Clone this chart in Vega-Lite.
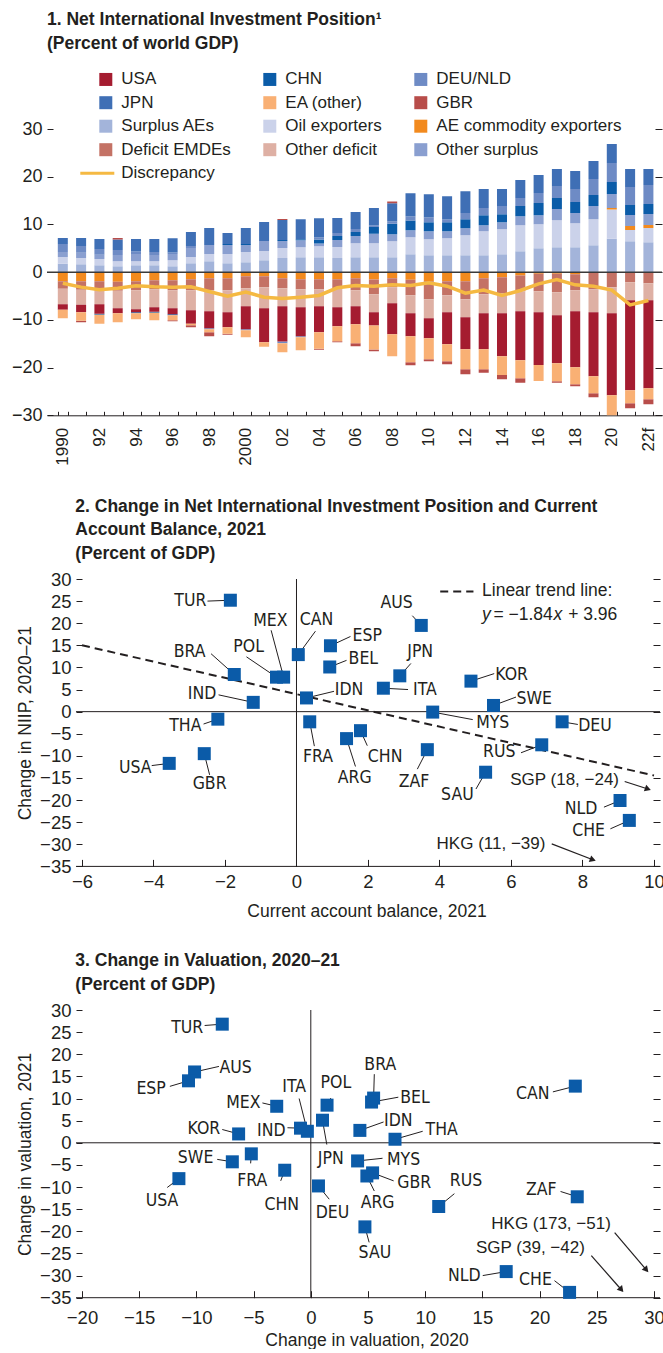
{
"$schema": "https://vega.github.io/schema/vega-lite/v6.json",
"background": "white",
"padding": {"left": 11, "top": 11, "right": 0, "bottom": 0},
"columns": 1,
"spacing": 31,
"config": {
  "view": {"stroke": null},
  "font": "Liberation Sans",
  "axis": {"grid": false, "labelFont": "Liberation Sans", "labelColor": "#231f20", "labelFontSize": 18, "titleFont": "Liberation Sans", "titleFontSize": 17.5, "titleFontWeight": "normal", "titleColor": "#231f20", "tickColor": "#231f20", "domainColor": "#231f20", "tickWidth": 1, "domainWidth": 1},
  "title": {"font": "Liberation Sans", "fontSize": 17.5, "fontWeight": "bold", "color": "#231f20", "anchor": "start", "frame": "group", "lineHeight": 23.5},
  "legend": {"labelFont": "Liberation Sans", "labelColor": "#231f20"}
},
"datasets": {
  "niip": [
    {"year":1990,"Surplus AEs":1.75,"Oil exporters":1.40,"AE commodity exporters":-1.89,"Other surplus":1.05,"CHN":0,"DEU/NLD":1.68,"JPN":1.26,"GBR":0,"Deficit EMDEs":-1.61,"Other deficit":-3.21,"USA":-1.19,"EA (other)":-1.75,"disc":-2.31},
    {"year":1991,"Surplus AEs":1.68,"Oil exporters":1.26,"AE commodity exporters":-1.89,"Other surplus":1.12,"CHN":0,"DEU/NLD":1.40,"JPN":1.68,"GBR":-0.28,"Deficit EMDEs":-1.82,"Other deficit":-3.14,"USA":-1.54,"EA (other)":-1.82,"disc":-3.14},
    {"year":1992,"Surplus AEs":1.47,"Oil exporters":1.26,"AE commodity exporters":-1.89,"Other surplus":0.91,"CHN":-0.21,"DEU/NLD":1.19,"JPN":2.10,"GBR":0,"Deficit EMDEs":-1.61,"Other deficit":-3.21,"USA":-2.03,"EA (other)":-1.89,"disc":-3.70},
    {"year":1993,"Surplus AEs":1.26,"Oil exporters":1.05,"AE commodity exporters":-2.03,"Other surplus":1.26,"CHN":0,"DEU/NLD":1.05,"JPN":2.24,"GBR":0.28,"Deficit EMDEs":-1.89,"Other deficit":-3.63,"USA":-1.05,"EA (other)":-1.89,"disc":-3.35},
    {"year":1994,"Surplus AEs":1.47,"Oil exporters":0.84,"AE commodity exporters":-1.89,"Other surplus":1.47,"CHN":-0.21,"DEU/NLD":0.56,"JPN":2.59,"GBR":0,"Deficit EMDEs":-1.89,"Other deficit":-3.98,"USA":-0.63,"EA (other)":-1.26,"disc":-2.87},
    {"year":1995,"Surplus AEs":1.47,"Oil exporters":0.84,"AE commodity exporters":-1.68,"Other surplus":1.26,"CHN":-0.21,"DEU/NLD":0.63,"JPN":2.73,"GBR":0,"Deficit EMDEs":-1.89,"Other deficit":-3.77,"USA":-0.98,"EA (other)":-1.54,"disc":-3.07},
    {"year":1996,"Surplus AEs":1.26,"Oil exporters":1.26,"AE commodity exporters":-1.68,"Other surplus":1.26,"CHN":-0.21,"DEU/NLD":0.35,"JPN":3.00,"GBR":-0.21,"Deficit EMDEs":-2.10,"Other deficit":-3.77,"USA":-1.26,"EA (other)":-1.05,"disc":-3.14},
    {"year":1997,"Surplus AEs":1.89,"Oil exporters":1.26,"AE commodity exporters":-1.47,"Other surplus":1.89,"CHN":0,"DEU/NLD":0.42,"JPN":2.94,"GBR":-0.42,"Deficit EMDEs":-2.31,"Other deficit":-4.19,"USA":-2.87,"EA (other)":-0.28,"disc":-3.07},
    {"year":1998,"Surplus AEs":2.31,"Oil exporters":1.47,"AE commodity exporters":-1.26,"Other surplus":1.89,"CHN":0,"DEU/NLD":-0.21,"JPN":3.56,"GBR":-0.84,"Deficit EMDEs":-2.52,"Other deficit":-4.40,"USA":-3.56,"EA (other)":-0.63,"disc":-4.05},
    {"year":1999,"Surplus AEs":1.89,"Oil exporters":1.89,"AE commodity exporters":-1.26,"Other surplus":1.89,"CHN":0.21,"DEU/NLD":0,"JPN":2.31,"GBR":-0.21,"Deficit EMDEs":-2.52,"Other deficit":-4.61,"USA":-3.14,"EA (other)":-1.40,"disc":-5.03},
    {"year":2000,"Surplus AEs":2.10,"Oil exporters":2.10,"AE commodity exporters":-0.84,"Other surplus":1.47,"CHN":0.21,"DEU/NLD":-0.21,"JPN":3.35,"GBR":0,"Deficit EMDEs":-2.52,"Other deficit":-3.77,"USA":-4.82,"EA (other)":-1.47,"disc":-4.19},
    {"year":2001,"Surplus AEs":2.52,"Oil exporters":1.89,"AE commodity exporters":-0.84,"Other surplus":2.10,"CHN":0,"DEU/NLD":0,"JPN":3.98,"GBR":0,"Deficit EMDEs":-2.31,"Other deficit":-4.40,"USA":-7.13,"EA (other)":-0.98,"disc":-5.24},
    {"year":2002,"Surplus AEs":2.94,"Oil exporters":2.10,"AE commodity exporters":-1.26,"Other surplus":1.47,"CHN":0.21,"DEU/NLD":-0.35,"JPN":4.19,"GBR":0.21,"Deficit EMDEs":-2.10,"Other deficit":-3.77,"USA":-7.41,"EA (other)":-1.89,"disc":-5.52},
    {"year":2003,"Surplus AEs":3.14,"Oil exporters":2.10,"AE commodity exporters":-1.47,"Other surplus":1.47,"CHN":0.21,"DEU/NLD":-0.21,"JPN":4.19,"GBR":0,"Deficit EMDEs":-2.10,"Other deficit":-3.77,"USA":-6.08,"EA (other)":-2.73,"disc":-5.24},
    {"year":2004,"Surplus AEs":3.14,"Oil exporters":2.31,"AE commodity exporters":-1.47,"Other surplus":0.56,"CHN":0.84,"DEU/NLD":0.49,"JPN":3.98,"GBR":-0.21,"Deficit EMDEs":-2.10,"Other deficit":-3.56,"USA":-5.45,"EA (other)":-3.49,"disc":-4.89},
    {"year":2005,"Surplus AEs":2.94,"Oil exporters":2.31,"AE commodity exporters":-1.47,"Other surplus":1.47,"CHN":0.84,"DEU/NLD":0.63,"JPN":3.14,"GBR":-0.21,"Deficit EMDEs":-1.89,"Other deficit":-3.98,"USA":-3.98,"EA (other)":-3.14,"disc":-3.28},
    {"year":2006,"Surplus AEs":3.14,"Oil exporters":2.94,"AE commodity exporters":-1.26,"Other surplus":1.47,"CHN":0.84,"DEU/NLD":0.63,"JPN":3.56,"GBR":-0.63,"Deficit EMDEs":-2.52,"Other deficit":-3.35,"USA":-3.77,"EA (other)":-3.98,"disc":-2.80},
    {"year":2007,"Surplus AEs":3.14,"Oil exporters":2.94,"AE commodity exporters":-1.54,"Other surplus":1.96,"CHN":1.40,"DEU/NLD":0.35,"JPN":3.63,"GBR":-0.35,"Deficit EMDEs":-3.07,"Other deficit":-3.77,"USA":-2.80,"EA (other)":-5.03,"disc":-2.94},
    {"year":2008,"Surplus AEs":3.14,"Oil exporters":3.35,"AE commodity exporters":-1.26,"Other surplus":1.47,"CHN":2.17,"DEU/NLD":0.49,"JPN":3.84,"GBR":0.35,"Deficit EMDEs":-1.89,"Other deficit":-3.35,"USA":-6.50,"EA (other)":-4.61,"disc":-2.66},
    {"year":2009,"Surplus AEs":3.77,"Oil exporters":3.56,"AE commodity exporters":-1.61,"Other surplus":1.47,"CHN":2.03,"DEU/NLD":0.91,"JPN":4.82,"GBR":-0.63,"Deficit EMDEs":-3.21,"Other deficit":-3.77,"USA":-4.82,"EA (other)":-5.45,"disc":-2.80},
    {"year":2010,"Surplus AEs":3.56,"Oil exporters":3.35,"AE commodity exporters":-1.89,"Other surplus":1.68,"CHN":1.89,"DEU/NLD":1.05,"JPN":4.82,"GBR":-0.42,"Deficit EMDEs":-3.77,"Other deficit":-3.98,"USA":-4.19,"EA (other)":-4.40,"disc":-2.24},
    {"year":2011,"Surplus AEs":3.56,"Oil exporters":3.56,"AE commodity exporters":-1.89,"Other surplus":1.47,"CHN":1.89,"DEU/NLD":0.63,"JPN":4.82,"GBR":-0.63,"Deficit EMDEs":-2.94,"Other deficit":-3.56,"USA":-6.71,"EA (other)":-3.56,"disc":-2.94},
    {"year":2012,"Surplus AEs":3.56,"Oil exporters":4.19,"AE commodity exporters":-1.89,"Other surplus":1.47,"CHN":1.89,"DEU/NLD":1.26,"JPN":4.61,"GBR":-1.05,"Deficit EMDEs":-3.77,"Other deficit":-3.77,"USA":-6.71,"EA (other)":-4.19,"disc":-4.40},
    {"year":2013,"Surplus AEs":3.56,"Oil exporters":5.03,"AE commodity exporters":-1.26,"Other surplus":1.26,"CHN":2.10,"DEU/NLD":1.47,"JPN":3.98,"GBR":-0.77,"Deficit EMDEs":-3.35,"Other deficit":-3.98,"USA":-7.55,"EA (other)":-4.19,"disc":-3.77},
    {"year":2014,"Surplus AEs":3.77,"Oil exporters":5.24,"AE commodity exporters":-1.05,"Other surplus":1.47,"CHN":1.68,"DEU/NLD":1.68,"JPN":3.56,"GBR":-0.84,"Deficit EMDEs":-3.35,"Other deficit":-4.19,"USA":-9.01,"EA (other)":-3.98,"disc":-4.89},
    {"year":2015,"Surplus AEs":4.40,"Oil exporters":5.45,"AE commodity exporters":-0.70,"Other surplus":1.89,"CHN":2.10,"DEU/NLD":1.68,"JPN":3.77,"GBR":-0.98,"Deficit EMDEs":-3.28,"Other deficit":-4.19,"USA":-10.27,"EA (other)":-3.77,"disc":-3.84},
    {"year":2016,"Surplus AEs":5.03,"Oil exporters":5.03,"AE commodity exporters":-0.35,"Other surplus":1.89,"CHN":2.52,"DEU/NLD":2.10,"JPN":3.77,"GBR":0,"Deficit EMDEs":-3.63,"Other deficit":-4.40,"USA":-11.10,"EA (other)":-3.35,"disc":-2.45},
    {"year":2017,"Surplus AEs":5.24,"Oil exporters":5.66,"AE commodity exporters":-0.35,"Other surplus":2.31,"CHN":2.31,"DEU/NLD":2.52,"JPN":3.56,"GBR":-0.35,"Deficit EMDEs":-3.84,"Other deficit":-4.82,"USA":-10.06,"EA (other)":-3.77,"disc":-1.54},
    {"year":2018,"Surplus AEs":5.24,"Oil exporters":5.03,"AE commodity exporters":-0.42,"Other surplus":2.10,"CHN":2.31,"DEU/NLD":2.73,"JPN":3.77,"GBR":-0.42,"Deficit EMDEs":-3.35,"Other deficit":-4.40,"USA":-11.74,"EA (other)":-3.56,"disc":-2.66},
    {"year":2019,"Surplus AEs":5.66,"Oil exporters":5.45,"AE commodity exporters":0,"Other surplus":2.73,"CHN":2.31,"DEU/NLD":3.35,"JPN":3.77,"GBR":-0.84,"Deficit EMDEs":-3.56,"Other deficit":-4.82,"USA":-13.42,"EA (other)":-3.56,"disc":-2.94},
    {"year":2020,"Surplus AEs":6.99,"Oil exporters":6.15,"AE commodity exporters":0.28,"Other surplus":2.94,"CHN":2.52,"DEU/NLD":3.98,"JPN":3.98,"GBR":-0.40,"Deficit EMDEs":-3.14,"Other deficit":-5.45,"USA":-17.19,"EA (other)":-5.00,"disc":-3.75},
    {"year":2021,"Surplus AEs":6.50,"Oil exporters":2.31,"AE commodity exporters":0.84,"Other surplus":2.31,"CHN":2.10,"DEU/NLD":3.77,"JPN":3.77,"GBR":-1.05,"Deficit EMDEs":-2.10,"Other deficit":-3.77,"USA":-18.87,"EA (other)":-2.73,"disc":-6.85},
    {"year":2022,"Surplus AEs":6.29,"Oil exporters":2.94,"AE commodity exporters":0.63,"Other surplus":2.31,"CHN":2.10,"DEU/NLD":3.98,"JPN":3.35,"GBR":-1.05,"Deficit EMDEs":-2.31,"Other deficit":-3.56,"USA":-18.45,"EA (other)":-2.31,"disc":-5.94}
  ],
  "s2": [
    {"code":"TUR","x":-1.85,"y":25.2,"lx":-2.97,"ly":25.0,"ex":-2.49,"ey":25.0},
    {"code":"BRA","x":-1.74,"y":8.4,"lx":-2.99,"ly":13.4,"ex":-2.39,"ey":13.1},
    {"code":"IND","x":-1.21,"y":2.1,"lx":-2.64,"ly":4.1,"ex":-2.18,"ey":3.8},
    {"code":"THA","x":-2.2,"y":-1.7,"lx":-3.11,"ly":-3.3,"ex":-2.6,"ey":-2.8},
    {"code":"GBR","x":-2.58,"y":-9.5,"lx":-2.43,"ly":-16.3,"ex":-2.43,"ey":-14.3},
    {"code":"USA","x":-3.56,"y":-11.7,"lx":-4.51,"ly":-12.7,"ex":-4.05,"ey":-12.2},
    {"code":"POL","x":-0.56,"y":7.8,"lx":-1.34,"ly":14.6,"ex":-1.4,"ey":12.4},
    {"code":"MEX","x":-0.36,"y":7.8,"lx":-0.73,"ly":20.6,"ex":-0.71,"ey":18.4},
    {"code":"CAN","x":0.05,"y":12.9,"lx":0.56,"ly":20.8,"ex":0.53,"ey":18.2},
    {"code":"FRA","x":0.37,"y":-2.3,"lx":0.6,"ly":-10.3,"ex":0.5,"ey":-7.8},
    {"code":"IDN","x":0.28,"y":3.1,"lx":1.47,"ly":5.0,"ex":1.05,"ey":4.6},
    {"code":"ESP","x":0.95,"y":14.9,"lx":1.98,"ly":17.2,"ex":1.51,"ey":17.0},
    {"code":"BEL","x":0.93,"y":10.1,"lx":1.87,"ly":11.9,"ex":1.4,"ey":11.6},
    {"code":"AUS","x":3.49,"y":19.5,"lx":2.8,"ly":24.6,"ex":3.24,"ey":21.7},
    {"code":"JPN","x":2.89,"y":8.1,"lx":3.46,"ly":13.6,"ex":3.2,"ey":10.9},
    {"code":"ITA","x":2.43,"y":5.3,"lx":3.59,"ly":4.8,"ex":3.12,"ey":5.0},
    {"code":"KOR","x":4.88,"y":6.9,"lx":6.02,"ly":8.4,"ex":5.53,"ey":8.6},
    {"code":"SWE","x":5.51,"y":1.4,"lx":6.65,"ly":2.9,"ex":6.14,"ey":3.3},
    {"code":"MYS","x":3.81,"y":-0.1,"lx":5.49,"ly":-2.6,"ex":4.93,"ey":-1.8},
    {"code":"DEU","x":7.43,"y":-2.3,"lx":8.35,"ly":-3.3,"ex":7.87,"ey":-2.9},
    {"code":"RUS","x":6.86,"y":-7.5,"lx":5.67,"ly":-9.2,"ex":6.28,"ey":-9.3},
    {"code":"ARG","x":1.4,"y":-6.1,"lx":1.63,"ly":-15.0,"ex":1.65,"ey":-12.4},
    {"code":"CHN","x":1.79,"y":-4.3,"lx":2.48,"ly":-10.3,"ex":1.98,"ey":-7.7},
    {"code":"ZAF","x":3.66,"y":-8.6,"lx":3.29,"ly":-15.8,"ex":3.38,"ey":-13.0},
    {"code":"SAU","x":5.29,"y":-13.7,"lx":4.5,"ly":-18.8,"ex":5.02,"ey":-17.5},
    {"code":"NLD","x":9.05,"y":-20.1,"lx":7.96,"ly":-22.0,"ex":8.6,"ey":-21.6},
    {"code":"CHE","x":9.31,"y":-24.6,"lx":8.17,"ly":-27.1,"ex":8.78,"ey":-26.5}
  ],
  "a2": [
    {"t":"SGP (18, −24)","lx":7.5,"ly":-15.4,"x1":9.18,"y1":-15.8,"x2":9.83,"y2":-17.5},
    {"t":"HKG (11, −39)","lx":5.44,"ly":-29.9,"x1":7.14,"y1":-29.9,"x2":8.29,"y2":-33.5}
  ],
  "trend2": [{"x":-6,"y":15.0},{"x":10,"y":-14.44}],
  "tleg2": [{"x":4.02,"y":27.2},{"x":4.95,"y":27.2}],
  "eqr": [{"t":"Linear trend line:","x":5.19,"y":27.2},{"t":"= −1.84","x":5.51,"y":21.9},{"t":"+ 3.96","x":7.6,"y":21.9}],
  "eqi": [{"t":"y","x":5.19,"y":21.9},{"t":"x","x":7.19,"y":21.9}],
  "s3": [
    {"code":"TUR","x":-7.74,"y":26.8,"lx":-10.8,"ly":26.0,"ex":-9.28,"ey":26.5},
    {"code":"AUS","x":-10.16,"y":16.0,"lx":-6.57,"ly":16.9,"ex":-8.03,"ey":17.25},
    {"code":"ESP","x":-10.69,"y":14.0,"lx":-13.96,"ly":12.2,"ex":-12.32,"ey":12.75},
    {"code":"MEX","x":-2.98,"y":8.25,"lx":-5.9,"ly":9.0,"ex":-4.23,"ey":9.0},
    {"code":"ITA","x":-0.3,"y":2.6,"lx":-1.46,"ly":12.5,"ex":-1.02,"ey":10.0},
    {"code":"IND","x":-0.9,"y":3.3,"lx":-3.45,"ly":2.6,"ex":-2.04,"ey":3.4},
    {"code":"KOR","x":-6.31,"y":2.0,"lx":-9.34,"ly":3.15,"ex":-7.74,"ey":3.0},
    {"code":"SWE","x":-6.86,"y":-4.3,"lx":-10.07,"ly":-3.5,"ex":-8.18,"ey":-3.75},
    {"code":"FRA","x":-5.2,"y":-2.5,"lx":-5.11,"ly":-8.6,"ex":-5.26,"ey":-4.65},
    {"code":"CHN","x":-2.28,"y":-6.2,"lx":-2.54,"ly":-14.0,"ex":-2.63,"ey":-8.6},
    {"code":"USA","x":-11.53,"y":-8.1,"lx":-13.0,"ly":-13.1,"ex":-12.55,"ey":-10.1},
    {"code":"DEU","x":0.67,"y":-9.75,"lx":1.9,"ly":-15.8,"ex":1.61,"ey":-12.75},
    {"code":"JPN","x":1.02,"y":5.1,"lx":1.75,"ly":-3.75,"ex":1.4,"ey":-0.4},
    {"code":"POL","x":1.42,"y":8.5,"lx":2.19,"ly":13.5,"ex":1.75,"ey":10.1},
    {"code":"BRA","x":5.49,"y":10.1,"lx":6.07,"ly":17.65,"ex":5.55,"ey":15.5},
    {"code":"BEL","x":5.31,"y":9.2,"lx":9.11,"ly":10.1,"ex":7.65,"ey":10.3},
    {"code":"IDN","x":4.29,"y":2.8,"lx":7.65,"ly":4.9,"ex":6.36,"ey":4.7},
    {"code":"THA","x":7.36,"y":0.8,"lx":11.44,"ly":3.0,"ex":9.78,"ey":2.6},
    {"code":"MYS","x":4.09,"y":-4.1,"lx":8.11,"ly":-4.0,"ex":6.27,"ey":-3.5},
    {"code":"GBR","x":5.4,"y":-6.8,"lx":9.05,"ly":-9.0,"ex":7.24,"ey":-8.6},
    {"code":"ARG","x":4.9,"y":-7.5,"lx":5.84,"ly":-13.5,"ex":5.55,"ey":-10.9},
    {"code":"RUS","x":11.18,"y":-14.4,"lx":13.57,"ly":-8.6,"ex":12.55,"ey":-11.5},
    {"code":"SAU","x":4.73,"y":-19.0,"lx":5.6,"ly":-25.0,"ex":5.1,"ey":-22.5},
    {"code":"NLD","x":17.08,"y":-29.1,"lx":13.42,"ly":-30.2,"ex":15.03,"ey":-30.0},
    {"code":"CHE","x":22.62,"y":-33.8,"lx":19.64,"ly":-31.0,"ex":21.3,"ey":-31.15},
    {"code":"CAN","x":23.12,"y":12.8,"lx":19.41,"ly":11.0,"ex":21.16,"ey":11.5},
    {"code":"ZAF","x":23.29,"y":-12.2,"lx":20.14,"ly":-10.7,"ex":21.83,"ey":-11.0}
  ],
  "a3": [
    {"t":"HKG (173, −51)","lx":21.0,"ly":-18.25,"x1":26.56,"y1":-20.3,"x2":29.33,"y2":-28.7},
    {"t":"SGP (39, −42)","lx":19.2,"ly":-23.8,"x1":24.52,"y1":-25.5,"x2":27.15,"y2":-33.2}
  ]
},
"concat": [
  {
    "width": 615, "height": 286.3,
    "title": {"text": ["1. Net International Investment Position¹", "    (Percent of world GDP)"], "offset": 68},
    "data": {"name": "niip"},
    "layer": [
      {
        "transform": [
          {"fold": ["Surplus AEs","Oil exporters","AE commodity exporters","Other surplus","CHN","DEU/NLD","JPN","GBR","Deficit EMDEs","Other deficit","USA","EA (other)"], "as": ["series","value"]},
          {"calculate": "indexof(['Surplus AEs','Oil exporters','AE commodity exporters','Deficit EMDEs','Other deficit','USA','Other surplus','CHN','DEU/NLD','JPN','EA (other)','GBR'], datum.series)", "as": "stackOrder"}
        ],
        "mark": {"type": "bar", "clip": true},
        "encoding": {
          "x": {"field": "year", "type": "ordinal",
                "scale": {"paddingInner": 0.453, "paddingOuter": 0.53, "align": 0.557},
                "axis": {"title": null, "tickBand": "extent", "tickSize": -4, "labelAngle": 270, "labelFontSize": 17, "labelPadding": 16, "labelOverlap": false, "domain": true,
                         "labelExpr": "datum.value % 2 != 0 ? '' : ((datum.value == 1990 || datum.value == 2000) ? datum.label : (datum.value == 2022 ? '22f' : substring(datum.label, 2, 4)))"}},
          "y": {"field": "value", "type": "quantitative", "stack": "zero",
                "scale": {"domain": [-30, 30], "nice": false, "zero": false},
                "axis": {"orient": "left", "title": null, "values": [-30,-20,-10,0,10,20,30], "tickSize": -6, "labelPadding": 11, "domain": false}},
          "color": {"field": "series", "type": "nominal",
                    "scale": {"domain": ["USA","JPN","Surplus AEs","Deficit EMDEs","Other surplus","CHN","EA (other)","Oil exporters","Other deficit","Discrepancy","DEU/NLD","GBR","AE commodity exporters"],
                              "range": ["#a51c30","#3f6fb5","#a3b4da","#c47265","#8a9fd0","#0b5ca8","#f9b074","#cbd2ea","#deb0a4","#f5b942","#6e8bc5","#b84d4a","#f28a1e"]},
                    "legend": {"title": null, "orient": "none", "legendX": 52.3, "legendY": -58.3, "columns": 3, "columnPadding": 32, "rowPadding": 5.5,
                               "symbolType": "square", "symbolSize": 169, "labelFontSize": 17, "labelOffset": 5, "labelLimit": 0, "padding": 0,
                               "encode": {"symbols": {"update": {
                                 "shape": {"signal": "datum.value === 'Discrepancy' ? 'stroke' : 'square'"},
                                 "size": {"signal": "datum.value === 'Discrepancy' ? 1156 : 169"},
                                 "strokeWidth": {"signal": "datum.value === 'Discrepancy' ? 3 : 0"},
                                 "stroke": {"signal": "datum.value === 'Discrepancy' ? '#f5b942' : 'transparent'"},
                                 "x": {"signal": "datum.value === 'Discrepancy' ? -2 : 6.5"}
                               }}}}},
          "order": {"field": "stackOrder", "type": "quantitative", "sort": "ascending"}
        }
      },
      {
        "data": {"values": [{}]},
        "mark": {"type": "rule", "color": "#3a3a3a", "strokeWidth": 1.5},
        "encoding": {"y": {"datum": 0, "type": "quantitative", "axis": null}}
      },
      {
        "mark": {"type": "line", "color": "#f5b942", "strokeWidth": 3.5},
        "encoding": {
          "x": {"field": "year", "type": "ordinal"},
          "y": {"field": "disc", "type": "quantitative", "axis": {"orient": "right", "title": null, "labels": false, "domain": false, "tickSize": -7, "values": [-30,-20,-10,0,10,20,30]}}
        }
      }
    ],
    "resolve": {"axis": {"y": "independent"}}
  },
  {
    "width": 613, "height": 287.4,
    "title": {"text": ["2. Change in Net International Investment Position and Current", "    Account Balance, 2021", "    (Percent of GDP)"], "offset": 8, "dx": 28.3},
    "layer": [
      {
        "data": {"values": [{}]},
        "mark": {"type": "rule", "color": "#231f20", "strokeWidth": 1},
        "encoding": {"x": {"datum": -6.168, "type": "quantitative"}, "x2": {"datum": 10.168},
                     "y": {"datum": 0, "type": "quantitative", "axis": {"orient": "right", "title": null, "labels": false, "domain": false, "tickSize": -7, "values": [-35,-30,-25,-20,-15,-10,-5,0,5,10,15,20,25,30]}}}
      },
      {
        "data": {"values": [{}]},
        "mark": {"type": "rule", "color": "#231f20", "strokeWidth": 1},
        "encoding": {"x": {"datum": -6.168, "type": "quantitative"}, "x2": {"datum": 10.168},
                     "y": {"datum": -35, "type": "quantitative", "axis": null}}
      },
      {
        "data": {"values": [{}]},
        "mark": {"type": "rule", "color": "#231f20", "strokeWidth": 1},
        "encoding": {"x": {"datum": 0, "type": "quantitative"}}
      },
      {
        "data": {"name": "trend2"},
        "mark": {"type": "line", "color": "#231f20", "strokeWidth": 2, "strokeDash": [8, 5]},
        "encoding": {"x": {"field": "x", "type": "quantitative"}, "y": {"field": "y", "type": "quantitative", "axis": null}}
      },
      {
        "data": {"name": "tleg2"},
        "mark": {"type": "line", "color": "#231f20", "strokeWidth": 2, "strokeDash": [8, 5]},
        "encoding": {"x": {"field": "x", "type": "quantitative"}, "y": {"field": "y", "type": "quantitative", "axis": null}}
      },
      {
        "data": {"name": "eqr"},
        "mark": {"type": "text", "align": "left", "baseline": "middle", "font": "Liberation Sans", "fontSize": 17.5, "color": "#231f20"},
        "encoding": {"x": {"field": "x", "type": "quantitative"}, "y": {"field": "y", "type": "quantitative", "axis": null}, "text": {"field": "t"}}
      },
      {
        "data": {"name": "eqi"},
        "mark": {"type": "text", "align": "left", "baseline": "middle", "font": "Liberation Sans", "fontSize": 17.5, "fontStyle": "italic", "color": "#231f20"},
        "encoding": {"x": {"field": "x", "type": "quantitative"}, "y": {"field": "y", "type": "quantitative", "axis": null}, "text": {"field": "t"}}
      },
      {
        "data": {"name": "s2"},
        "mark": {"type": "rule", "color": "#231f20", "strokeWidth": 1},
        "encoding": {"x": {"field": "x", "type": "quantitative"}, "y": {"field": "y", "type": "quantitative", "axis": null}, "x2": {"field": "ex"}, "y2": {"field": "ey"}}
      },
      {
        "data": {"name": "s2"},
        "mark": {"type": "square", "size": 169, "filled": true, "color": "#0b5ba8", "opacity": 1},
        "encoding": {
          "x": {"field": "x", "type": "quantitative", "scale": {"domain": [-6.979, 10.168], "nice": false, "zero": false},
                "axis": {"orient": "bottom", "title": "Current account balance, 2021", "values": [-6,-4,-2,0,2,4,6,8,10], "tickSize": -7, "labelPadding": 13, "labelFontSize": 18.5, "domain": false, "titlePadding": 12, "titleX": 319.5, "titleAnchor": "start", "titleAlign": "center"}},
          "y": {"field": "y", "type": "quantitative", "scale": {"domain": [-35, 30], "nice": false, "zero": false},
                "axis": {"orient": "left", "offset": -29, "title": "Change in NIIP, 2020–21", "values": [-35,-30,-25,-20,-15,-10,-5,0,5,10,15,20,25,30], "tickSize": -6, "labelPadding": 11, "labelFontSize": 18.5, "domain": false, "titlePadding": 5}}
        }
      },
      {
        "data": {"name": "s2"},
        "mark": {"type": "text", "align": "center", "baseline": "middle", "font": "DejaVu Sans Condensed", "fontSize": 17.5, "color": "#231f20"},
        "encoding": {"x": {"field": "lx", "type": "quantitative"}, "y": {"field": "ly", "type": "quantitative", "axis": null}, "text": {"field": "code"}}
      },
      {
        "data": {"name": "a2"},
        "mark": {"type": "rule", "color": "#231f20", "strokeWidth": 1.2},
        "encoding": {"x": {"field": "x1", "type": "quantitative"}, "y": {"field": "y1", "type": "quantitative", "axis": null}, "x2": {"field": "x2"}, "y2": {"field": "y2"}}
      },
      {
        "data": {"name": "a2"},
        "mark": {"type": "point", "shape": "triangle-right", "angle": 20, "size": 50, "filled": true, "color": "#231f20", "opacity": 1},
        "encoding": {"x": {"field": "x2", "type": "quantitative"}, "y": {"field": "y2", "type": "quantitative", "axis": null}}
      },
      {
        "data": {"name": "a2"},
        "mark": {"type": "text", "align": "center", "baseline": "middle", "font": "Liberation Sans", "fontSize": 17, "color": "#231f20"},
        "encoding": {"x": {"field": "lx", "type": "quantitative"}, "y": {"field": "ly", "type": "quantitative", "axis": null}, "text": {"field": "t"}}
      }
    ],
    "resolve": {"axis": {"y": "independent"}}
  },
  {
    "width": 613, "height": 287.7,
    "title": {"text": ["3. Change in Valuation, 2020–21", "    (Percent of GDP)"], "offset": 8, "dx": 28.3},
    "layer": [
      {
        "data": {"values": [{}]},
        "mark": {"type": "rule", "color": "#231f20", "strokeWidth": 1},
        "encoding": {"x": {"datum": -20.524, "type": "quantitative"}, "x2": {"datum": 30.524},
                     "y": {"datum": 0, "type": "quantitative", "axis": {"orient": "right", "title": null, "labels": false, "domain": false, "tickSize": -7, "values": [-35,-30,-25,-20,-15,-10,-5,0,5,10,15,20,25,30]}}}
      },
      {
        "data": {"values": [{}]},
        "mark": {"type": "rule", "color": "#231f20", "strokeWidth": 1},
        "encoding": {"x": {"datum": -20.524, "type": "quantitative"}, "x2": {"datum": 30.524},
                     "y": {"datum": -35, "type": "quantitative", "axis": null}}
      },
      {
        "data": {"values": [{}]},
        "mark": {"type": "rule", "color": "#231f20", "strokeWidth": 1},
        "encoding": {"x": {"datum": 0, "type": "quantitative"}}
      },
      {
        "data": {"name": "s3"},
        "mark": {"type": "rule", "color": "#231f20", "strokeWidth": 1},
        "encoding": {"x": {"field": "x", "type": "quantitative"}, "y": {"field": "y", "type": "quantitative", "axis": null}, "x2": {"field": "ex"}, "y2": {"field": "ey"}}
      },
      {
        "data": {"name": "s3"},
        "mark": {"type": "square", "size": 169, "filled": true, "color": "#0b5ba8", "opacity": 1},
        "encoding": {
          "x": {"field": "x", "type": "quantitative", "scale": {"domain": [-23.06, 30.524], "nice": false, "zero": false},
                "axis": {"orient": "bottom", "title": "Change in valuation, 2020", "values": [-20,-15,-10,-5,0,5,10,15,20,25,30], "tickSize": -7, "labelPadding": 18, "labelFontSize": 18.5, "domain": false, "titlePadding": 4, "titleX": 319.5, "titleAnchor": "start", "titleAlign": "center"}},
          "y": {"field": "y", "type": "quantitative", "scale": {"domain": [-35, 30], "nice": false, "zero": false},
                "axis": {"orient": "left", "offset": -29, "title": "Change in valuation, 2021", "values": [-35,-30,-25,-20,-15,-10,-5,0,5,10,15,20,25,30], "tickSize": -6, "labelPadding": 11, "labelFontSize": 18.5, "domain": false, "titlePadding": 5}}
        }
      },
      {
        "data": {"name": "s3"},
        "mark": {"type": "text", "align": "center", "baseline": "middle", "font": "DejaVu Sans Condensed", "fontSize": 17.5, "color": "#231f20"},
        "encoding": {"x": {"field": "lx", "type": "quantitative"}, "y": {"field": "ly", "type": "quantitative", "axis": null}, "text": {"field": "code"}}
      },
      {
        "data": {"name": "a3"},
        "mark": {"type": "rule", "color": "#231f20", "strokeWidth": 1.2},
        "encoding": {"x": {"field": "x1", "type": "quantitative"}, "y": {"field": "y1", "type": "quantitative", "axis": null}, "x2": {"field": "x2"}, "y2": {"field": "y2"}}
      },
      {
        "data": {"name": "a3"},
        "mark": {"type": "point", "shape": "triangle-right", "angle": 49, "size": 50, "filled": true, "color": "#231f20", "opacity": 1},
        "encoding": {"x": {"field": "x2", "type": "quantitative"}, "y": {"field": "y2", "type": "quantitative", "axis": null}}
      },
      {
        "data": {"name": "a3"},
        "mark": {"type": "text", "align": "center", "baseline": "middle", "font": "Liberation Sans", "fontSize": 17, "color": "#231f20"},
        "encoding": {"x": {"field": "lx", "type": "quantitative"}, "y": {"field": "ly", "type": "quantitative", "axis": null}, "text": {"field": "t"}}
      }
    ],
    "resolve": {"axis": {"y": "independent"}}
  }
]
}
